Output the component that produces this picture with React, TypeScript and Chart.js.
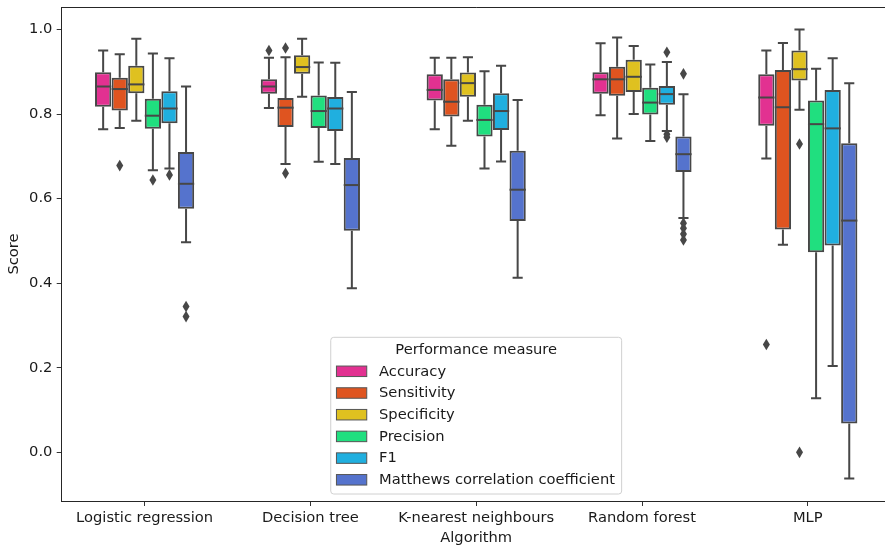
import React, { useEffect, useRef } from "react";
import { Chart, registerables } from "chart.js";

Chart.register(...registerables);

const ALGORITHMS = [
  "Logistic regression",
  "Decision tree",
  "K-nearest neighbours",
  "Random forest",
  "MLP",
];
const MEASURES = [
  "Accuracy",
  "Sensitivity",
  "Specificity",
  "Precision",
  "F1",
  "Matthews correlation coefficient",
];
const COLORS = ["#E23191", "#DF5420", "#DFC120", "#20DF7F", "#20AFDF", "#5573CD"];
const Y_TICKS = [0, 0.2, 0.4, 0.6, 0.8, 1.0];
const Y_MIN = -0.115;
const Y_MAX = 1.053;

// each entry: [lower whisker, Q1, median, Q3, upper whisker], one per algorithm
const accuracyBoxes = [
  [0.764, 0.817, 0.865, 0.899, 0.95],
  [0.814, 0.848, 0.865, 0.882, 0.933],
  [0.764, 0.832, 0.857, 0.894, 0.933],
  [0.797, 0.848, 0.882, 0.899, 0.967],
  [0.695, 0.772, 0.839, 0.894, 0.95],
];
const accuracyOutliers = [[], [0.95], [], [], [0.255]];

const sensitivityBoxes = [
  [0.767, 0.808, 0.859, 0.886, 0.941],
  [0.682, 0.769, 0.815, 0.838, 0.934],
  [0.725, 0.794, 0.829, 0.882, 0.933],
  [0.742, 0.843, 0.882, 0.912, 0.981],
  [0.491, 0.527, 0.816, 0.904, 0.968],
];
const sensitivityOutliers = [[0.678], [0.956, 0.66], [], [], []];

const specificityBoxes = [
  [0.784, 0.849, 0.87, 0.914, 0.978],
  [0.841, 0.895, 0.911, 0.939, 0.978],
  [0.784, 0.841, 0.873, 0.898, 0.934],
  [0.8, 0.852, 0.888, 0.928, 0.961],
  [0.81, 0.879, 0.906, 0.95, 1.0],
];
const specificityOutliers = [[], [], [], [], [0.729, 0.0]];

const precisionBoxes = [
  [0.667, 0.765, 0.796, 0.836, 0.943],
  [0.687, 0.767, 0.807, 0.844, 0.922],
  [0.671, 0.747, 0.786, 0.822, 0.901],
  [0.736, 0.799, 0.827, 0.862, 0.917],
  [0.128, 0.473, 0.776, 0.832, 0.907],
];
const precisionOutliers = [[0.644], [], [], [], []];

const f1Boxes = [
  [0.671, 0.778, 0.813, 0.854, 0.932],
  [0.682, 0.76, 0.813, 0.84, 0.921],
  [0.688, 0.762, 0.807, 0.849, 0.914],
  [0.76, 0.822, 0.847, 0.866, 0.923],
  [0.204, 0.489, 0.766, 0.857, 0.932],
];
const f1Outliers = [[0.656], [], [], [0.946, 0.752, 0.745], []];

const mccBoxes = [
  [0.497, 0.576, 0.635, 0.71, 0.865],
  [0.388, 0.524, 0.632, 0.696, 0.852],
  [0.413, 0.547, 0.621, 0.713, 0.833],
  [0.554, 0.663, 0.705, 0.747, 0.847],
  [-0.062, 0.068, 0.548, 0.731, 0.873],
];
const mccOutliers = [[0.345, 0.321], [], [], [0.895, 0.542, 0.53, 0.516, 0.502], []];

const ALL_BOXES = [accuracyBoxes, sensitivityBoxes, specificityBoxes, precisionBoxes, f1Boxes, mccBoxes];
const ALL_OUTLIERS = [
  accuracyOutliers,
  sensitivityOutliers,
  specificityOutliers,
  precisionOutliers,
  f1Outliers,
  mccOutliers,
];

const LINE_GRAY = "#474747";
const TEXT_COLOR = "#1a1a1a";
const FONT_FAMILY = "'DejaVu Sans', 'Liberation Sans', sans-serif";
const FONT_SIZE = 14.7;

const boxPlugin = {
  id: "boxDetails",
  afterDatasetsDraw(chart: any) {
    const ctx = chart.ctx;
    const yScale = chart.scales.y;
    ctx.save();
    chart.data.datasets.forEach((ds: any, i: number) => {
      const meta = chart.getDatasetMeta(i);
      meta.data.forEach((bar: any, j: number) => {
        const s = ds.stats[j];
        const outs = ds.outliers[j] || [];
        const { x, width } = bar.getProps(["x", "width"], true);
        const yLo = yScale.getPixelForValue(s[0]);
        const yQ1 = yScale.getPixelForValue(s[1]);
        const yMed = yScale.getPixelForValue(s[2]);
        const yQ3 = yScale.getPixelForValue(s[3]);
        const yHi = yScale.getPixelForValue(s[4]);
        ctx.strokeStyle = LINE_GRAY;
        ctx.lineWidth = 2;
        ctx.lineCap = "butt";
        ctx.beginPath();
        ctx.moveTo(x, yQ3);
        ctx.lineTo(x, yHi);
        ctx.moveTo(x, yQ1);
        ctx.lineTo(x, yLo);
        ctx.stroke();
        ctx.lineCap = "square";
        ctx.beginPath();
        ctx.moveTo(x - width / 4, yHi);
        ctx.lineTo(x + width / 4, yHi);
        ctx.moveTo(x - width / 4, yLo);
        ctx.lineTo(x + width / 4, yLo);
        ctx.stroke();
        ctx.lineCap = "butt";
        ctx.beginPath();
        ctx.moveTo(x - width / 2, yMed);
        ctx.lineTo(x + width / 2, yMed);
        ctx.stroke();
        ctx.fillStyle = LINE_GRAY;
        outs.forEach((v: number) => {
          const py = yScale.getPixelForValue(v);
          ctx.beginPath();
          ctx.moveTo(x, py - 5.8);
          ctx.lineTo(x + 3.5, py);
          ctx.lineTo(x, py + 5.8);
          ctx.lineTo(x - 3.5, py);
          ctx.closePath();
          ctx.fill();
        });
      });
    });
    ctx.restore();
  },
  afterDraw(chart: any) {
    const ctx = chart.ctx;
    const area = chart.chartArea;
    ctx.save();
    // top and right spines
    ctx.strokeStyle = "#262626";
    ctx.lineWidth = 1;
    ctx.beginPath();
    ctx.moveTo(area.left, area.top + 0.5);
    ctx.lineTo(area.right, area.top + 0.5);
    ctx.moveTo(area.right - 0.5, area.top);
    ctx.lineTo(area.right - 0.5, area.bottom);
    ctx.stroke();

    // legend
    ctx.font = `${FONT_SIZE}px ${FONT_FAMILY}`;
    let maxW = 0;
    MEASURES.forEach((m) => {
      maxW = Math.max(maxW, ctx.measureText(m).width);
    });
    const padL = 5.7;
    const patchW = 30.3;
    const patchH = 10.5;
    const gap = 12.3;
    const padR = 6.7;
    const boxW = padL + patchW + gap + maxW + padR;
    const boxH = 156.7;
    const cx = (area.left + area.right) / 2;
    const left = cx - boxW / 2;
    const bottom = area.bottom - 7;
    const top = bottom - boxH;
    const r = 3;
    ctx.beginPath();
    ctx.moveTo(left + r, top);
    ctx.lineTo(left + boxW - r, top);
    ctx.quadraticCurveTo(left + boxW, top, left + boxW, top + r);
    ctx.lineTo(left + boxW, bottom - r);
    ctx.quadraticCurveTo(left + boxW, bottom, left + boxW - r, bottom);
    ctx.lineTo(left + r, bottom);
    ctx.quadraticCurveTo(left, bottom, left, bottom - r);
    ctx.lineTo(left, top + r);
    ctx.quadraticCurveTo(left, top, left + r, top);
    ctx.closePath();
    ctx.fillStyle = "rgba(255,255,255,0.8)";
    ctx.fill();
    ctx.strokeStyle = "#d0d0d0";
    ctx.lineWidth = 1;
    ctx.stroke();

    ctx.fillStyle = TEXT_COLOR;
    ctx.textAlign = "center";
    ctx.textBaseline = "middle";
    ctx.fillText("Performance measure", cx, top + 13);
    ctx.textAlign = "left";
    MEASURES.forEach((m, i) => {
      const cy = top + 34 + i * 21.7;
      ctx.fillStyle = COLORS[i];
      ctx.fillRect(left + padL, cy - patchH / 2, patchW, patchH);
      ctx.strokeStyle = "#555555";
      ctx.lineWidth = 1;
      ctx.strokeRect(left + padL, cy - patchH / 2, patchW, patchH);
      ctx.fillStyle = TEXT_COLOR;
      ctx.fillText(m, left + padL + patchW + gap, cy + 0.5);
    });
    ctx.restore();
  },
};

export default function App() {
  const canvasRef = useRef<HTMLCanvasElement | null>(null);

  useEffect(() => {
    const canvas = canvasRef.current;
    if (!canvas) return;
    Chart.defaults.font.family = FONT_FAMILY;
    Chart.defaults.font.size = FONT_SIZE;
    Chart.defaults.color = TEXT_COLOR;

    const datasets = MEASURES.map((m, i) => ({
      label: m,
      data: ALL_BOXES[i].map((s) => [s[1], s[3]]),
      stats: ALL_BOXES[i],
      outliers: ALL_OUTLIERS[i],
      backgroundColor: COLORS[i],
      borderColor: LINE_GRAY,
      borderWidth: 2,
      borderSkipped: false,
      categoryPercentage: 0.6,
      barPercentage: 0.98,
    }));

    const chart = new Chart(canvas, {
      type: "bar",
      data: { labels: ALGORITHMS, datasets: datasets as any },
      options: {
        responsive: false,
        animation: false,
        devicePixelRatio: 1,
        layout: { padding: { left: 0, top: 7, right: 1.3, bottom: 0 } },
        plugins: {
          legend: { display: false },
          tooltip: { enabled: false },
        },
        scales: {
          x: {
            type: "category",
            offset: true,
            grid: {
              display: true,
              offset: false,
              drawOnChartArea: false,
              drawTicks: true,
              tickLength: 5,
              color: "#333333",
              lineWidth: 1,
            },
            border: { display: true, color: "#262626", width: 1 },
            ticks: { padding: 3.2, color: TEXT_COLOR, maxRotation: 0, autoSkip: false },
            title: {
              display: true,
              text: "Algorithm",
              color: TEXT_COLOR,
              padding: { top: 0, bottom: 1 },
            },
            afterFit: (scale: any) => {
              scale.height = 47;
              scale.paddingLeft = 0;
              scale.paddingRight = 0;
            },
          },
          y: {
            type: "linear",
            min: Y_MIN,
            max: Y_MAX,
            grid: {
              display: true,
              drawOnChartArea: false,
              drawTicks: true,
              tickLength: 5,
              color: "#333333",
              lineWidth: 1,
            },
            border: { display: true, color: "#262626", width: 1 },
            ticks: {
              padding: 4.3,
              color: TEXT_COLOR,
              callback: (v: any) => Number(v).toFixed(1),
            },
            afterBuildTicks: (scale: any) => {
              scale.ticks = Y_TICKS.map((v) => ({ value: v }));
            },
            title: {
              display: true,
              text: "Score",
              color: TEXT_COLOR,
              padding: { top: 5.2, bottom: 0 },
            },
            afterFit: (scale: any) => {
              scale.width = 61.7;
              scale.paddingTop = 0;
              scale.paddingBottom = 0;
            },
          },
        },
      },
      plugins: [boxPlugin],
    });

    return () => {
      chart.destroy();
    };
  }, []);

  return (
    <div
      style={{
        position: "fixed",
        left: 0,
        top: 0,
        width: 885,
        height: 548,
        overflow: "hidden",
        background: "#ffffff",
      }}
    >
      <canvas
        ref={canvasRef}
        width={892}
        height={548}
        style={{ display: "block", width: 892, height: 548 }}
      />
    </div>
  );
}
